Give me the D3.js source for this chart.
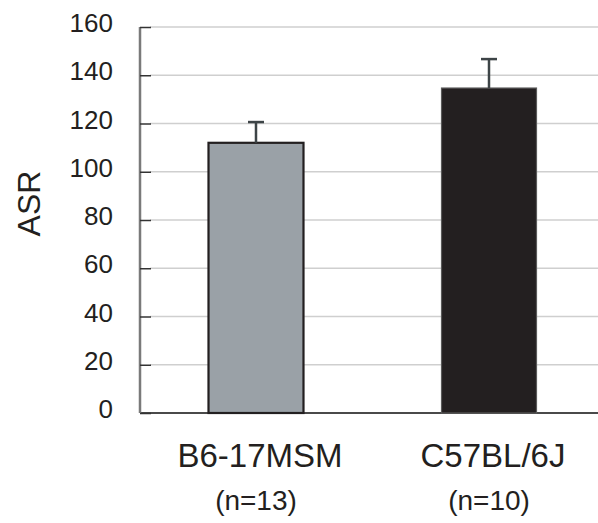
<!DOCTYPE html>
<html>
<head>
<meta charset="utf-8">
<script src="https://cdn.jsdelivr.net/npm/d3@7"></script>
<style>
  html, body { margin: 0; padding: 0; background: #fff; }
  svg { display: block; font-family: "Liberation Sans", Arial, Helvetica, sans-serif; }
</style>
</head>
<body>
<svg id="chart" width="598" height="523"></svg>
<script>
// Strain groups and mean ASR with standard error
const categories = ["B6-17MSM", "C57BL/6J"];
const sampleSizes = ["(n=13)", "(n=10)"];
const means = [112, 134.7];
const errors = [8.6, 12];
const yTicks = [0, 20, 40, 60, 80, 100, 120, 140, 160];
const fills = ["#9aa1a7", "#231f20"];
const strokes = ["#231f20", "#5a5a5a"];

const svg = d3.select("#chart");
const plotLeft = 140, plotRight = 598, plotTop = 27, plotBottom = 413;

const y = d3.scaleLinear().domain([0, 160]).range([plotBottom, plotTop]);
const x = d3.scaleBand()
  .domain(categories)
  .range([140, 605])
  .paddingInner(0.5923)
  .paddingOuter(0.294);

// horizontal gridlines
svg.append("g")
  .selectAll("line")
  .data(yTicks.filter(d => d > 0))
  .join("line")
  .attr("x1", plotLeft + 10).attr("x2", plotRight)
  .attr("y1", d => y(d)).attr("y2", d => y(d))
  .attr("stroke", "#cfcfcf").attr("stroke-width", 1.5);

// baseline
svg.append("line")
  .attr("x1", plotLeft).attr("x2", plotRight)
  .attr("y1", y(0)).attr("y2", y(0))
  .attr("stroke", "#4a4a4a").attr("stroke-width", 2);

// y axis with inward ticks
const yAxis = d3.axisLeft(y).tickValues(yTicks).tickSize(-11).tickPadding(0);
const gy = svg.append("g").attr("transform", `translate(${plotLeft},0)`).call(yAxis);
gy.select(".domain").attr("stroke", "#7a7a7a").attr("stroke-width", 2.5)
  .attr("d", `M0,${plotTop}V${plotBottom}`);
gy.selectAll(".tick line").attr("stroke", "#333").attr("stroke-width", 1.5);
gy.selectAll(".tick text")
  .attr("x", -27)
  .attr("y", -4.5)
  .attr("dy", "0.35em")
  .attr("fill", "#231f20")
  .style("font-size", "26px")
  .style("font-family", "'Liberation Sans', Arial, sans-serif");

// bars
svg.append("g")
  .selectAll("rect")
  .data(categories)
  .join("rect")
  .attr("x", d => x(d))
  .attr("width", x.bandwidth())
  .attr("y", (d, i) => y(means[i]))
  .attr("height", (d, i) => y(0) - y(means[i]))
  .attr("fill", (d, i) => fills[i])
  .attr("stroke", (d, i) => strokes[i])
  .attr("stroke-width", (d, i) => i === 0 ? 2.2 : 1.2);

// error bars (upper only)
const eb = svg.append("g").attr("stroke", "#3d4447").attr("stroke-width", 2.5);
categories.forEach((c, i) => {
  const cx = x(c) + x.bandwidth() / 2;
  eb.append("line")
    .attr("x1", cx).attr("x2", cx)
    .attr("y1", y(means[i])).attr("y2", y(means[i] + errors[i]));
  eb.append("line")
    .attr("x1", cx - 8).attr("x2", cx + 8)
    .attr("y1", y(means[i] + errors[i])).attr("y2", y(means[i] + errors[i]));
});

// category labels
svg.append("g")
  .selectAll("text")
  .data(categories)
  .join("text")
  .attr("x", d => x(d) + x.bandwidth() / 2 + 4)
  .attr("y", 467)
  .attr("text-anchor", "middle")
  .attr("fill", "#231f20")
  .style("font-size", "33px")
  .text(d => d);

svg.append("g")
  .selectAll("text")
  .data(categories)
  .join("text")
  .attr("x", d => x(d) + x.bandwidth() / 2)
  .attr("y", 510)
  .attr("text-anchor", "middle")
  .attr("fill", "#231f20")
  .style("font-size", "28px")
  .text((d, i) => sampleSizes[i]);

// y axis title
svg.append("text")
  .attr("transform", "translate(40,203.5) rotate(-90)")
  .attr("text-anchor", "middle")
  .attr("fill", "#231f20")
  .style("font-size", "32px")
  .text("ASR");
</script>
</body>
</html>
